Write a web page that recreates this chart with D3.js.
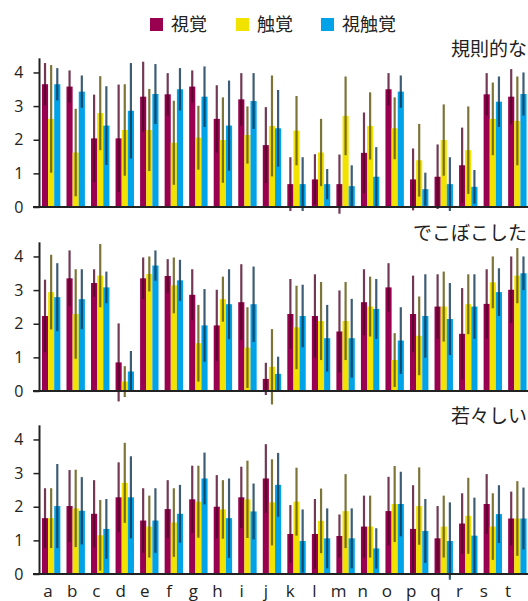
<!DOCTYPE html>
<html>
<head>
<meta charset="utf-8">
<script src="https://cdn.jsdelivr.net/npm/d3@7"></script>
<style>
  body { margin: 0; background: #fff; }
  svg { display: block; font-family: "Noto Sans CJK JP", "Noto Sans", sans-serif; }
</style>
</head>
<body>
<svg id="chart" width="528" height="601"></svg>
<script>
const categories = ['a','b','c','d','e','f','g','h','i','j','k','l','m','n','o','p','q','r','s','t']
const seriesNames = ['視覚', '触覚', '視触覚']
const panelTitles = ['規則的な', 'でこぼこした', '若々しい']
const yTicks = [0, 1, 2, 3, 4]

// 規則的な
const regularVisual = [3.65, 3.58, 2.04, 2.04, 3.28, 3.35, 3.58, 2.62, 3.2, 1.84, 0.68, 0.82, 0.68, 1.61, 3.5, 0.82, 0.9, 1.24, 3.35, 3.28]
const regularVisualErr = [0.63, 0.48, 1.3, 1.6, 1.04, 0.63, 0.48, 1.0, 0.78, 1.13, 0.8, 0.75, 0.88, 1.2, 0.48, 0.92, 0.96, 1.12, 0.63, 0.82]
const regularTouch = [2.62, 1.62, 2.79, 2.29, 2.29, 1.91, 2.06, 1.99, 2.14, 2.41, 2.27, 1.62, 2.71, 2.41, 2.34, 1.39, 1.99, 1.69, 2.62, 2.56]
const regularTouchErr = [1.6, 1.3, 1.1, 1.36, 1.22, 1.25, 0.95, 1.27, 0.85, 1.5, 1.03, 1.0, 1.17, 1.0, 0.92, 1.08, 1.06, 1.3, 1.08, 1.32]
const regularBoth = [3.65, 3.43, 2.42, 2.86, 3.36, 3.5, 3.28, 2.42, 3.15, 2.34, 0.68, 0.68, 0.62, 0.9, 3.43, 0.53, 0.68, 0.6, 3.13, 3.36]
const regularBothErr = [0.48, 0.48, 1.17, 1.42, 0.89, 0.63, 0.9, 1.34, 0.83, 1.14, 0.8, 0.45, 0.62, 0.88, 0.48, 0.49, 0.8, 0.5, 0.75, 0.64]

// でこぼこした
const bumpyVisual = [2.23, 3.35, 3.21, 0.85, 3.35, 3.42, 2.86, 1.95, 2.64, 0.36, 2.29, 2.23, 1.77, 2.64, 3.08, 2.29, 2.51, 1.7, 2.59, 3.01]
const bumpyVisualErr = [1.08, 0.83, 0.41, 1.16, 0.62, 0.5, 0.76, 1.06, 1.13, 0.48, 1.04, 1.24, 1.22, 0.98, 0.72, 1.14, 0.96, 1.36, 1.03, 0.99]
const bumpyTouch = [2.94, 2.29, 3.43, 0.28, 3.48, 3.14, 1.42, 2.73, 1.29, 0.72, 1.89, 2.08, 2.08, 2.51, 0.92, 1.64, 2.51, 2.58, 3.23, 3.43]
const bumpyTouchErr = [1.11, 1.33, 0.94, 0.46, 0.52, 0.83, 1.14, 0.67, 1.2, 1.12, 1.24, 1.16, 1.16, 0.89, 0.8, 1.17, 1.04, 0.89, 0.77, 0.82]
const bumpyBoth = [2.79, 2.73, 3.08, 0.58, 3.73, 3.29, 1.95, 2.58, 2.58, 0.51, 2.23, 1.57, 1.57, 2.44, 1.5, 2.23, 2.14, 2.51, 2.94, 3.5]
const bumpyBothErr = [1.01, 0.89, 0.47, 0.61, 0.45, 0.61, 1.08, 1.04, 1.12, 0.51, 0.93, 0.99, 1.17, 0.89, 0.99, 1.24, 1.07, 0.96, 0.71, 0.5]

// 若々しい
const youngVisual = [1.66, 2.02, 1.79, 2.28, 1.59, 1.93, 2.22, 2.0, 2.28, 2.84, 1.19, 1.19, 1.13, 1.41, 1.87, 1.34, 1.06, 1.5, 2.08, 1.65]
const youngVisualErr = [0.89, 1.07, 1.0, 1.04, 0.96, 0.86, 1.0, 0.94, 0.91, 1.02, 0.86, 1.04, 0.64, 0.92, 1.02, 1.3, 0.96, 0.9, 0.89, 0.8]
const youngTouch = [1.66, 1.95, 1.15, 2.71, 1.41, 1.53, 2.15, 1.92, 2.22, 2.13, 2.15, 1.58, 1.87, 1.41, 2.08, 2.02, 1.41, 1.73, 1.41, 1.65]
const youngTouchErr = [0.89, 1.15, 1.05, 1.19, 0.92, 1.02, 1.07, 0.87, 1.15, 1.28, 1.01, 0.96, 1.1, 0.92, 1.13, 1.15, 0.92, 1.13, 0.99, 1.11]
const youngBoth = [2.02, 1.88, 1.34, 2.28, 1.59, 1.79, 2.84, 1.66, 1.86, 2.65, 0.98, 1.06, 1.06, 0.76, 2.08, 1.28, 0.98, 1.14, 1.78, 1.65]
const youngBothErr = [1.25, 1.0, 0.89, 1.22, 0.96, 0.86, 0.77, 1.18, 0.83, 0.95, 0.94, 0.89, 0.89, 0.6, 0.96, 0.95, 1.15, 1.13, 0.86, 0.92]

const panels = [
  { title: panelTitles[0], means: [regularVisual, regularTouch, regularBoth], errs: [regularVisualErr, regularTouchErr, regularBothErr] },
  { title: panelTitles[1], means: [bumpyVisual, bumpyTouch, bumpyBoth], errs: [bumpyVisualErr, bumpyTouchErr, bumpyBothErr] },
  { title: panelTitles[2], means: [youngVisual, youngTouch, youngBoth], errs: [youngVisualErr, youngTouchErr, youngBothErr] },
]

const barColors = ['#990050', '#f2e200', '#00a2e8']
const errColors = ['#4a0024', '#574d00', '#08304d']

const svg = d3.select('#chart')
const axisX = 39.5
const panelTop = [59, 243, 426]
const panelH = 148

const x = d3.scaleBand().domain(categories).range([axisX, 529]).paddingInner(0.25).paddingOuter(0.1)
const xs = d3.scaleBand().domain(d3.range(3)).range([0, x.bandwidth()])
const xLabel = d3.scalePoint().domain(categories).range([48, 508])

// Legend
const legend = svg.append('g').attr('class', 'legend')
const legendX = [150, 236, 321]
seriesNames.forEach((name, i) => {
  legend.append('rect')
    .attr('x', legendX[i]).attr('y', 18)
    .attr('width', 13).attr('height', 13)
    .attr('fill', barColors[i])
  legend.append('text')
    .attr('x', legendX[i] + 21).attr('y', 31)
    .attr('font-size', '18px').attr('fill', '#222')
    .text(name)
})

panels.forEach((p, pi) => {
  const top = panelTop[pi]
  const y = d3.scaleLinear().domain([0, 4.4]).range([top + panelH, top])
  const g = svg.append('g').attr('class', 'panel')

  // bars
  p.means.forEach((vals, si) => {
    g.append('g')
      .selectAll('rect')
      .data(categories)
      .join('rect')
      .attr('x', (c) => x(c) + xs(si))
      .attr('y', (c, i) => y(vals[i]))
      .attr('width', xs.bandwidth())
      .attr('height', (c, i) => y(0) - y(vals[i]))
      .attr('fill', barColors[si])
  })

  // error bars
  p.means.forEach((vals, si) => {
    const errs = p.errs[si]
    g.append('g')
      .selectAll('line')
      .data(categories)
      .join('line')
      .attr('x1', (c) => x(c) + xs(si) + xs.bandwidth() / 2)
      .attr('x2', (c) => x(c) + xs(si) + xs.bandwidth() / 2)
      .attr('y1', (c, i) => y(vals[i] + errs[i]))
      .attr('y2', (c, i) => y(vals[i] - errs[i]))
      .attr('stroke', errColors[si])
      .attr('stroke-width', 2.2)
      .attr('stroke-opacity', 0.78)
  })

  // y axis
  const yAxis = g.append('g')
    .attr('transform', `translate(${axisX},0)`)
    .call(d3.axisLeft(y).tickValues(yTicks).tickSize(6).tickPadding(10).tickFormat(d3.format('d')))
  yAxis.select('.domain').attr('stroke', '#222').attr('stroke-width', 2)
    .attr('d', `M0,${y(4.42)}V${y(0)}`)
  yAxis.selectAll('.tick line').attr('stroke', '#222').attr('stroke-width', 1.5)
  yAxis.selectAll('.tick text').attr('font-size', '16px').attr('fill', '#222')
    .attr('font-family', '"Open Sans", "Noto Sans", sans-serif')

  // baseline
  g.append('line')
    .attr('x1', 33).attr('x2', 528)
    .attr('y1', y(0)).attr('y2', y(0))
    .attr('stroke', '#222').attr('stroke-width', 2)

  // title
  g.append('text')
    .attr('x', 527).attr('y', top - 3)
    .attr('text-anchor', 'end')
    .attr('font-size', '19px').attr('fill', '#222')
    .text(p.title)
})

// category labels
svg.append('g')
  .selectAll('text')
  .data(categories)
  .join('text')
  .attr('x', (c) => xLabel(c))
  .attr('y', 597)
  .attr('text-anchor', 'middle')
  .attr('font-size', '17px')
  .attr('font-family', '"Open Sans", "Noto Sans", sans-serif')
  .attr('fill', '#222')
  .text((c) => c)
</script>
</body>
</html>
